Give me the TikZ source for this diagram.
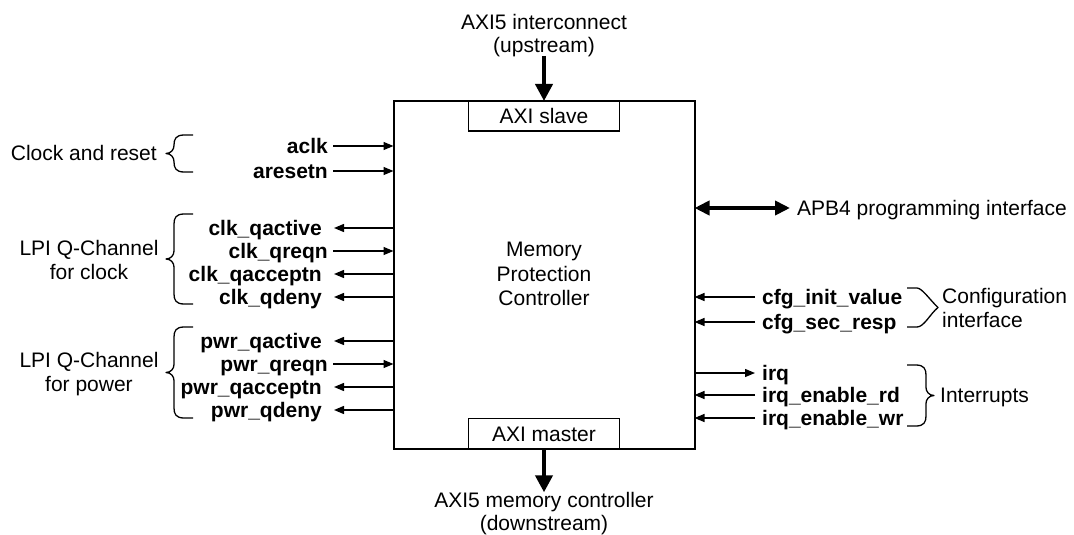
\documentclass[tikz,border=0pt]{standalone}
\usepackage{fontspec}
\setmainfont{Liberation Sans}
\usetikzlibrary{arrows.meta}

\tikzset{
  lbl/.style={font=\fontsize{21}{24}\selectfont, inner sep=0pt, text height=15pt, text depth=0pt},
  sig/.style={lbl, font=\fontsize{21}{24}\selectfont\bfseries},
  sarrow/.style={line width=1.3pt, -{Triangle[length=10pt,width=8pt]}},
  barrow/.style={line width=4pt, -{Triangle[length=17pt,width=17pt]}},
  darrow/.style={line width=4pt, {Triangle[length=15pt,width=14pt]}-{Triangle[length=15pt,width=14pt]}},
  brace/.style={line width=1.3pt, line join=round},
  port/.style={lbl, draw, line width=1.3pt, minimum width=151pt, minimum height=30pt, outer sep=0pt},
  pics/leftbrace/.style={code={
    \draw[brace] (0,0) -- (-9,0) .. controls (-17,0) and (-19,4) .. (-19,10)
      -- (-19,{#1/2-8}) .. controls (-19,{#1/2-4}) and (-22,{#1/2}) .. (-27,{#1/2})
      .. controls (-22,{#1/2}) and (-19,{#1/2+4}) .. (-19,{#1/2+8})
      -- (-19,{#1-10}) .. controls (-19,{#1-4}) and (-17,#1) .. (-9,#1) -- (0,#1);
  }}
}

\begin{document}
\begin{tikzpicture}[x=1pt, y=-1pt]
\useasboundingbox (0,0) rectangle (1074,535);

% controller block with its two AXI ports
\node[draw, line width=2pt, minimum width=301pt, minimum height=347.5pt, outer sep=0pt, inner sep=0pt] (mpc) at (544,274.75) {};
\node[port, anchor=north] (slave) at (mpc.north) {AXI slave};
\node[port, anchor=south] (master) at (mpc.south) {AXI master};
\node[lbl] (t1) at (544,249) {Memory};
\node[lbl] (t2) at (544,273.5) {Protection};
\node[lbl] (t3) at (544,298) {Controller};

% upstream / downstream AXI
\node[lbl] (up1) at (544,22) {AXI5 interconnect};
\node[lbl] (up2) at (544,45) {(upstream)};
\coordinate (upin) at (544,56);
\draw[barrow] (upin) -- (slave.north);
\node[lbl] (dn1) at (544,500) {AXI5 memory controller};
\node[lbl] (dn2) at (544,523) {(downstream)};
\draw[barrow] (master.south) -- (dn1.north);

% left side: clock, reset and Q-Channels
\node[sig, anchor=east] (aclk) at (328,146) {aclk};
\node[sig, anchor=east] (aresetn) at (328,171) {aresetn};
\node[sig, anchor=east] (cqact) at (322,228) {clk\_qactive};
\node[sig, anchor=east] (cqreq) at (328,251) {clk\_qreqn};
\node[sig, anchor=east] (cqacc) at (322,274) {clk\_qacceptn};
\node[sig, anchor=east] (cqden) at (322,297) {clk\_qdeny};
\node[sig, anchor=east] (pqact) at (322,341) {pwr\_qactive};
\node[sig, anchor=east] (pqreq) at (328,364) {pwr\_qreqn};
\node[sig, anchor=east] (pqacc) at (322,387) {pwr\_qacceptn};
\node[sig, anchor=east] (pqden) at (322,410) {pwr\_qdeny};

\foreach \n in {aclk,aresetn,cqreq,pqreq}
  \draw[sarrow] ([xshift=5pt]\n.east) -- (\n -| mpc.west);
\foreach \n in {cqact,cqacc,cqden,pqact,pqacc,pqden}
  \draw[sarrow] (\n -| mpc.west) -- ([xshift=12pt]\n.east);

\pic at (193,135) {leftbrace=37};
\pic at (193,214) {leftbrace=90};
\pic at (193,327) {leftbrace=91};

\node[lbl, anchor=east] (clkrst) at (157,153) {Clock and reset};
\node[lbl] (lpic1) at (89,248) {LPI Q-Channel};
\node[lbl] (lpic2) at (89,272) {for clock};
\node[lbl] (lpip1) at (89,360) {LPI Q-Channel};
\node[lbl] (lpip2) at (89,384) {for power};

% right side: APB4, configuration and interrupts
\node[lbl, anchor=west] (apb) at (797,208) {APB4 programming interface};
\draw[darrow] (apb -| mpc.east) -- ([xshift=-7pt]apb.west);

\node[sig, anchor=west] (cfgi) at (762,297) {cfg\_init\_value};
\node[sig, anchor=west] (cfgs) at (762,322) {cfg\_sec\_resp};
\node[sig, anchor=west] (irq) at (762,373) {irq};
\node[sig, anchor=west] (irqrd) at (762,395) {irq\_enable\_rd};
\node[sig, anchor=west] (irqwr) at (762,418) {irq\_enable\_wr};

\foreach \n in {cfgi,cfgs,irqrd,irqwr}
  \draw[sarrow] ([xshift=-7pt]\n.west) -- (\n -| mpc.east);
\draw[sarrow] (irq -| mpc.east) -- ([xshift=-7pt]irq.west);

\draw[brace] (907,288) -- (917,288) .. controls (922,288) and (930,300) .. (938,307.5)
  .. controls (930,314) and (924,327) .. (917,327) -- (907,327);
\pic[xscale=-1] at (907,365) {leftbrace=61};

\node[lbl, anchor=west] (cfg1) at (942,296) {Configuration};
\node[lbl, anchor=west] (cfg2) at (942,320) {interface};
\node[lbl, anchor=west] (intr) at (940,395) {Interrupts};
\end{tikzpicture}
\end{document}
